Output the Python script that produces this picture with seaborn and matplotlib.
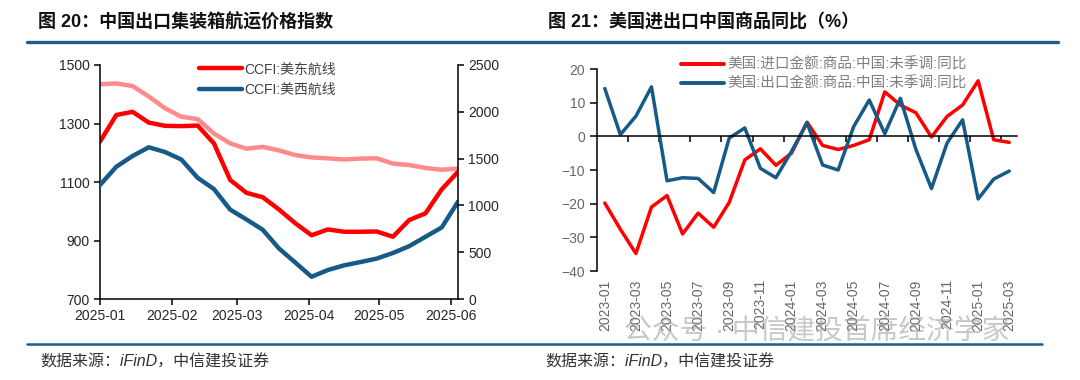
import seaborn as sns
import matplotlib.pyplot as plt
import matplotlib.dates as mdates
from matplotlib.lines import Line2D
import numpy as np
import pandas as pd

# 图20 data (weekly)
weeks = ["2025-01-01", "2025-01-08", "2025-01-15", "2025-01-22", "2025-01-29",
         "2025-02-05", "2025-02-12", "2025-02-19", "2025-02-26", "2025-03-05",
         "2025-03-12", "2025-03-19", "2025-03-26", "2025-04-02", "2025-04-09",
         "2025-04-16", "2025-04-23", "2025-04-30", "2025-05-07", "2025-05-14",
         "2025-05-21", "2025-05-28", "2025-06-04"]
ccfi_east = [1238, 1329, 1340, 1303, 1292, 1291, 1293, 1232, 1107, 1063, 1048, 1006,
             959, 918, 938, 930, 930, 931, 913, 970, 993, 1075, 1135]
ccfi_west = [1218, 1413, 1528, 1621, 1570, 1490, 1295, 1175, 955, 850, 740, 540,
             390, 238, 310, 360, 395, 432, 492, 565, 665, 765, 1040]
ccfi_all = [1434, 1437, 1428, 1392, 1352, 1323, 1315, 1266, 1232, 1214, 1220, 1208,
            1192, 1184, 1181, 1177, 1180, 1181, 1163, 1158, 1148, 1142, 1146]

# 图21 data (monthly)
months = ["2023-01", "2023-02", "2023-03", "2023-04", "2023-05", "2023-06", "2023-07",
          "2023-08", "2023-09", "2023-10", "2023-11", "2023-12", "2024-01", "2024-02",
          "2024-03", "2024-04", "2024-05", "2024-06", "2024-07", "2024-08", "2024-09",
          "2024-10", "2024-11", "2024-12", "2025-01", "2025-02", "2025-03"]
us_import = [-19.8, -27.6, -34.8, -21.0, -17.6, -29.0, -22.8, -27.0, -19.6, -7.0, -3.7,
             -8.6, -5.0, 4.2, -2.7, -3.9, -2.7, -1.0, 13.2, 9.3, 7.0, -0.2, 5.9, 9.3,
             16.5, -1.0, -1.8]
us_export = [14.2, 0.5, 6.0, 14.7, -13.2, -12.3, -12.5, -16.7, -0.5, 2.5, -9.5, -12.3,
             -4.5, 4.0, -8.5, -10.0, 2.9, 10.8, 0.8, 11.3, -3.9, -15.5, -2.0, 4.9,
             -18.6, -12.7, -10.3]

RED = "#FF0000"
BLUE = "#165A88"
PINK = "#FF8A8A"
NAVY = "#1F5C8B"

sns.set_theme(style="white")
plt.rcParams["font.family"] = ["Liberation Sans", "Noto Sans CJK SC", "DejaVu Sans"]
plt.rcParams["axes.linewidth"] = 1.1

fig = plt.figure(figsize=(10.8, 3.8), dpi=100)

# ---------- left chart ----------
dates = pd.to_datetime(weeks)
ax1 = fig.add_axes([0.0926, 0.213, 0.3315, 0.616])
sns.lineplot(x=dates, y=ccfi_all, ax=ax1, color=PINK, lw=3.2)
sns.lineplot(x=dates, y=ccfi_east, ax=ax1, color=RED, lw=3.2)
ax1r = ax1.twinx()
sns.lineplot(x=dates, y=ccfi_west, ax=ax1r, color=BLUE, lw=3.2)

ax1.set_xlim(dates[0], dates[-1])
ax1.set_ylim(700, 1500)
ax1.set_yticks(range(700, 1501, 200))
ax1r.set_ylim(0, 2500)
ax1r.set_yticks(range(0, 2501, 500))
ax1.xaxis.set_major_locator(mdates.MonthLocator())
ax1.xaxis.set_major_formatter(mdates.DateFormatter("%Y-%m"))
ax1.set(xlabel="", ylabel="")
ax1r.set(xlabel="", ylabel="")

for s in ["top", "right"]:
    ax1.spines[s].set_visible(False)
for s in ["top", "left", "bottom"]:
    ax1r.spines[s].set_visible(False)
for a in (ax1, ax1r):
    for s in a.spines.values():
        s.set_color("black")
ax1.tick_params(axis="both", which="both", bottom=True, left=True, direction="out",
                length=4, width=1.1, color="black", labelsize=10, labelcolor="#262626")
ax1r.tick_params(axis="y", right=True, direction="out", length=4, width=1.1,
                 color="black", labelsize=10, labelcolor="#262626")

handles = [Line2D([], [], color=RED, lw=3.2, label="CCFI:美东航线"),
           Line2D([], [], color=BLUE, lw=3.2, label="CCFI:美西航线")]
ax1.legend(handles=handles, loc="upper left", bbox_to_anchor=(0.26, 1.035),
           frameon=False, fontsize=10, handlelength=3.1, handletextpad=0.2,
           labelspacing=0.45, borderaxespad=0, labelcolor="#404040")

# ---------- right chart ----------
x = np.arange(len(months))
ax2 = fig.add_axes([0.5528, 0.2868, 0.3889, 0.5316])
sns.lineplot(x=x, y=us_import, ax=ax2, color=RED, lw=2.5)
sns.lineplot(x=x, y=us_export, ax=ax2, color=BLUE, lw=2.5)
ax2.set_xlim(-0.5, 26.5)
ax2.set_ylim(-40, 20)
ax2.set_yticks(range(-40, 21, 10))
ax2.set(xlabel="", ylabel="")
ax2.spines["top"].set_visible(False)
ax2.spines["right"].set_visible(False)
ax2.spines["bottom"].set_position(("data", 0))
for s in ax2.spines.values():
    s.set_color("black")
ax2.set_xticks(np.arange(1.5, 26, 2))
ax2.tick_params(axis="x", bottom=True, direction="out", length=4, width=1.1,
                color="black", labelbottom=False)
ax2.tick_params(axis="y", left=True, direction="out", length=5, width=1.1,
                color="black", labelsize=10, labelcolor="#666666")

sec = ax2.secondary_xaxis("bottom")
sec.set_xticks(x[::2], months[::2], rotation=90)
sec.tick_params(length=0, pad=6, labelsize=10, labelcolor="#666666")
sec.spines["bottom"].set_visible(False)

handles2 = [Line2D([], [], color=RED, lw=2.8, label="美国:进口金额:商品:中国:未季调:同比"),
            Line2D([], [], color=BLUE, lw=2.8, label="美国:出口金额:商品:中国:未季调:同比")]
ax2.legend(handles=handles2, loc="upper left", bbox_to_anchor=(0.185, 1.085),
           frameon=False, fontsize=10.5, handlelength=3.0, handletextpad=0.2,
           labelspacing=0.35, borderaxespad=0, labelcolor="#7F7F7F")

# ---------- titles, rules, sources ----------
fig.text(0.035, 0.942, "图 20：中国出口集装箱航运价格指数", fontsize=13,
         fontweight="bold", va="center", color="#111111")
fig.text(0.507, 0.942, "图 21：美国进出口中国商品同比（%）", fontsize=13,
         fontweight="bold", va="center", color="#111111")
fig.add_artist(Line2D([0.025, 0.98], [1 - 41.5 / 380] * 2, color=NAVY, lw=2.4))
fig.add_artist(Line2D([0.025, 0.965], [1 - 344 / 380] * 2, color=NAVY, lw=1.8))
fig.text(0.037, 1 - 362 / 380, "数据来源：iFinD，中信建投证券", fontsize=11.5,
         style="italic", va="center", color="#333333")
fig.text(0.505, 1 - 362 / 380, "数据来源：iFinD，中信建投证券", fontsize=11.5,
         style="italic", va="center", color="#333333")
# watermark overlay as in the source image
fig.text(0.578, 1 - 332 / 380, "公众号 · 中信建投首席经济学家", fontsize=20,
         va="center", color="#9A9A9A", alpha=0.55, zorder=0)

fig.savefig("out.png", dpi=100)
